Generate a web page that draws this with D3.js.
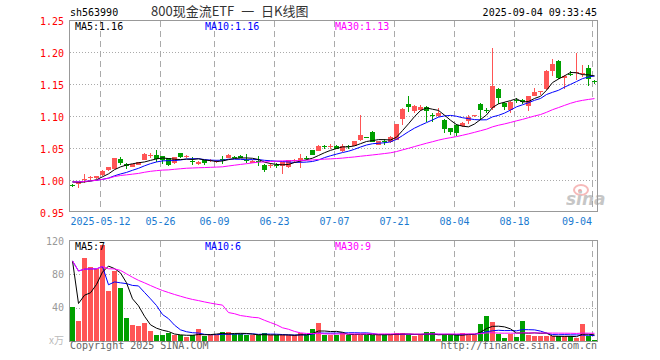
<!DOCTYPE html>
<html>
<head>
<meta charset="utf-8">
<script src="https://cdn.jsdelivr.net/npm/d3@7"></script>
<style>
    body { margin: 0; background: #fff; }
    svg text { font-family: "DejaVu Sans Mono", monospace; font-size: 10px; }
</style>
</head>
<body>
<svg id="chart" width="660" height="360"></svg>
<script>
var symbol = "sh563990";
var title = "800现金流ETF 一 日K线图";
var stamp = "2025-09-04 09:33:45";

// daily bars, oldest first (2025-04-30 .. 2025-09-04)
var open = [0.992, 0.994, 1.000, 1.003, 1.0025, 1.0072, 1.015, 1.0172, 1.0333, 1.025,
    1.0208, 1.024, 1.0317, 1.0385, 1.0395, 1.037, 1.0349, 1.0266, 1.0422, 1.0365,
    1.029, 1.0245, 1.0307, 1.0303, 1.029, 1.033, 1.0349, 1.036, 1.038, 1.031,
    1.027, 1.030, 1.0239, 1.0225, 1.024, 1.0213, 1.0203, 1.030, 1.029, 1.0345,
    1.0462, 1.0458, 1.0528, 1.0523, 1.0535, 1.0458, 1.0528, 1.0536, 1.062, 1.0665,
    1.0755, 1.0552, 1.0605, 1.0594, 1.0625, 1.0955, 1.118, 1.1072, 1.1088, 1.1145,
    1.1022, 1.0994, 1.094, 1.081, 1.0864, 1.085, 1.092, 1.100, 1.119, 1.110,
    1.113, 1.142, 1.121, 1.110, 1.125, 1.1255, 1.116, 1.132, 1.1381, 1.142,
    1.1708, 1.1864, 1.1594, 1.166, 1.167, 1.1664, 1.1745, 1.1545];
var high = [0.994, 0.997, 1.010, 1.007, 1.007, 1.015, 1.020, 1.035, 1.0353, 1.026,
    1.0255, 1.028, 1.042, 1.0427, 1.0473, 1.038, 1.035, 1.036, 1.0425, 1.039,
    1.036, 1.029, 1.031, 1.033, 1.031, 1.038, 1.040, 1.038, 1.039, 1.0406,
    1.032, 1.038, 1.025, 1.026, 1.026, 1.0275, 1.032, 1.033, 1.041, 1.037,
    1.047, 1.054, 1.055, 1.057, 1.054, 1.056, 1.054, 1.061, 1.102, 1.067,
    1.076, 1.061, 1.064, 1.068, 1.088, 1.113, 1.131, 1.117, 1.1166, 1.115,
    1.104, 1.113, 1.095, 1.082, 1.087, 1.090, 1.101, 1.102, 1.120, 1.113,
    1.207, 1.143, 1.122, 1.124, 1.128, 1.126, 1.132, 1.1437, 1.139, 1.172,
    1.189, 1.188, 1.164, 1.171, 1.199, 1.179, 1.180, 1.157];
var low = [0.989, 0.9875, 0.996, 1.000, 1.002, 1.007, 1.014, 1.017, 1.0239, 1.0172,
    1.020, 1.0235, 1.031, 1.0344, 1.0286, 1.0245, 1.022, 1.025, 1.035, 1.0338,
    1.0234, 1.0235, 1.0234, 1.028, 1.027, 1.0255, 1.034, 1.034, 1.034, 1.027,
    1.026, 1.022, 1.013, 1.019, 1.019, 1.0098, 1.019, 1.027, 1.0188, 1.032,
    1.039, 1.045, 1.049, 1.048, 1.048, 1.044, 1.048, 1.053, 1.061, 1.065,
    1.059, 1.054, 1.055, 1.058, 1.062, 1.0864, 1.1056, 1.104, 1.108, 1.0906,
    1.0906, 1.099, 1.0739, 1.0708, 1.069, 1.083, 1.088, 1.098, 1.094, 1.105,
    1.109, 1.118, 1.110, 1.105, 1.121, 1.118, 1.108, 1.131, 1.133, 1.141,
    1.162, 1.158, 1.142, 1.162, 1.1556, 1.1604, 1.1463, 1.150];
var close = [0.991, 0.997, 1.002, 1.005, 1.0067, 1.0145, 1.0197, 1.0348, 1.0266, 1.0213,
    1.0244, 1.0275, 1.0411, 1.039, 1.0328, 1.0318, 1.0229, 1.0359, 1.0359, 1.0368,
    1.0286, 1.0286, 1.0266, 1.0307, 1.030, 1.0328, 1.0391, 1.0355, 1.0344, 1.0306,
    1.030, 1.0295, 1.015, 1.0235, 1.0235, 1.0275, 1.0317, 1.0305, 1.0344, 1.0343,
    1.0395, 1.0525, 1.0525, 1.0527, 1.0485, 1.0525, 1.0525, 1.0603, 1.070, 1.0656,
    1.0594, 1.0603, 1.060, 1.0672, 1.087, 1.1115, 1.1134, 1.116, 1.1145, 1.1075,
    1.1015, 1.104, 1.079, 1.075, 1.0734, 1.089, 1.099, 1.101, 1.110, 1.109,
    1.147, 1.128, 1.114, 1.122, 1.124, 1.1213, 1.1317, 1.138, 1.1388, 1.1708,
    1.1817, 1.1594, 1.163, 1.1652, 1.1682, 1.1672, 1.158, 1.154];
// volume in 万
var volume = [40.4, 23.6, 99.6, 88.8, 86.8, 114.8, 59.6, 84.4, 63.2, 27.2,
    18.8, 17.6, 21.6, 12, 6.8, 6.8, 9.6, 6.8, 6.8, 4.4,
    6.8, 14, 5.6, 7.6, 7.6, 10.8, 10.8, 8.4, 8.4, 6.8,
    6.8, 6.8, 9.2, 6.8, 6.8, 6.8, 6.8, 6.8, 10, 6.8,
    14.8, 21.6, 6.8, 6.8, 7.6, 9.6, 7.6, 7.6, 7.6, 7.6,
    7.6, 7.6, 7.6, 7.6, 9.6, 9.6, 7.6, 5.6, 7.6, 10.8,
    10.8, 2.4, 7.6, 7.6, 7.6, 9.6, 7.6, 7.6, 20.4, 29.6,
    22.8, 8.4, 3.6, 8.4, 4.4, 23.6, 6.8, 5.6, 5.6, 5.6,
    5.6, 5.6, 5.6, 5.6, 3.6, 20.4, 5.6, 1.2];

// the few days before the window, only used to warm up the averages
var warmClose = [1.000, 0.999, 0.998, 0.997];
var warmVolume = [279, 50, 74, 37];

var maDays = [5, 10, 30];
var maColors = ["#000000", "#0000ff", "#ff00ff"];

var tickIndex = [5, 15, 24, 34, 44, 54, 64, 74, 87];
var tickLabels = ["2025-05-12", "05-26", "06-09", "06-23", "07-07", "07-21", "08-04", "08-18", "09-04"];
var priceTicks = [0.95, 1.00, 1.05, 1.10, 1.15, 1.20, 1.25];
var volumeTicks = [40, 80, 120];

var red = "#ff5555";
var green = "#00a000";

// moving average, shorter window while history is short
function movingAverage(values, warm, n) {
    var all = warm.concat(values);
    return values.map(function (v, i) {
        var j = i + warm.length;
        return d3.mean(all.slice(Math.max(0, j - n + 1), j + 1));
    });
}

var svg = d3.select("#chart");
var left = 70, right = 597;

var x = d3.scaleBand()
    .domain(d3.range(close.length))
    .range([left, right])
    .paddingInner(1 / 6)
    .paddingOuter(0);
var bx = function (i) { return Math.round(x(i)); };

var yPrice = d3.scaleLinear().domain([0.95, 1.25]).range([212, 20]);
var yVol = d3.scaleLinear().domain([0, 120]).range([341, 241]);

var up = close.map(function (c, i) { return c >= open[i]; });

function panel(y, ticks, lo, hi, firstGrid) {
    var g = svg.append("g").attr("shape-rendering", "crispEdges");
    var top = Math.round(y(hi)) + 0.5 - (y === yVol ? 1 : 0);
    var bottom = Math.round(y(lo)) - 0.5 + (y === yVol ? 1 : 0);

    g.selectAll("line.h")
        .data(ticks.filter(function (t) { return t > lo && t < hi; }))
        .enter()
        .append("line")
        .attr("x1", left).attr("x2", right)
        .attr("y1", function (d) { return Math.round(y(d)) + 0.5; })
        .attr("y2", function (d) { return Math.round(y(d)) + 0.5; })
        .attr("stroke", "#aaa")
        .attr("stroke-dasharray", "1,2");

    g.selectAll("line.v")
        .data(tickIndex.slice(firstGrid))
        .enter()
        .append("line")
        .attr("x1", function (d) { return bx(d) + 0.5; })
        .attr("x2", function (d) { return bx(d) + 0.5; })
        .attr("y1", top).attr("y2", bottom)
        .attr("stroke", "#aaa")
        .attr("stroke-dasharray", "6,4");

    g.append("rect")
        .attr("x", left - 0.5)
        .attr("y", top)
        .attr("width", right - left + 1)
        .attr("height", bottom - top)
        .attr("fill", "none")
        .attr("stroke", "#999");
}

panel(yPrice, priceTicks, 0.95, 1.25, 0);
panel(yVol, [0, 40, 80, 120], 0, 120, 1);

// sina watermark
var mark = svg.append("g").attr("opacity", 0.55);
mark.append("ellipse")
    .attr("cx", 581).attr("cy", 190)
    .attr("rx", 7).attr("ry", 5)
    .attr("fill", "none")
    .attr("stroke", "#f08080")
    .attr("stroke-width", 2);
mark.append("circle")
    .attr("cx", 580).attr("cy", 191).attr("r", 2)
    .attr("fill", "#e06060");
mark.append("text")
    .attr("x", 566).attr("y", 205)
    .style("font-family", "DejaVu Sans")
    .style("font-size", "17px")
    .style("font-style", "italic")
    .style("font-weight", "bold")
    .attr("fill", "#999")
    .text("sina");

// candles
var candles = svg.append("g").attr("shape-rendering", "crispEdges");
candles.selectAll("rect.wick")
    .data(close)
    .enter()
    .append("rect")
    .attr("x", function (d, i) { return bx(i) + 2; })
    .attr("y", function (d, i) { return Math.round(yPrice(high[i])); })
    .attr("width", 1)
    .attr("height", function (d, i) {
        return Math.max(1, Math.round(yPrice(low[i])) - Math.round(yPrice(high[i])));
    })
    .attr("fill", function (d, i) { return up[i] ? red : green; });

candles.selectAll("rect.body")
    .data(close)
    .enter()
    .append("rect")
    .attr("x", function (d, i) { return bx(i); })
    .attr("y", function (d, i) { return Math.round(yPrice(Math.max(d, open[i]))); })
    .attr("width", 5)
    .attr("height", function (d, i) {
        var t = Math.round(yPrice(Math.max(d, open[i])));
        var b = Math.round(yPrice(Math.min(d, open[i])));
        return Math.max(1, b - t);
    })
    .attr("fill", function (d, i) { return up[i] ? red : green; });

// volume bars
svg.append("g")
    .attr("shape-rendering", "crispEdges")
    .selectAll("rect")
    .data(volume)
    .enter()
    .append("rect")
    .attr("x", function (d, i) { return bx(i); })
    .attr("y", function (d) { return Math.round(yVol(d)); })
    .attr("width", 5)
    .attr("height", function (d) { return Math.max(1, Math.round(yVol(0)) - Math.round(yVol(d))); })
    .attr("fill", function (d, i) { return up[i] ? red : green; });

// moving average lines, blue first so black and magenta sit on top
var priceMA = maDays.map(function (n) { return movingAverage(close, warmClose, n); });
var volMA = maDays.map(function (n) { return movingAverage(volume, warmVolume, n); });

function drawLines(series, y) {
    [1, 0, 2].forEach(function (k) {
        svg.append("path")
            .datum(series[k])
            .attr("fill", "none")
            .attr("stroke", maColors[k])
            .attr("stroke-width", 1)
            .attr("d", d3.line()
                .x(function (d, i) { return bx(i) + 2.5; })
                .y(function (d) { return y(d); }));
    });
}
drawLines(priceMA, yPrice);
drawLines(volMA, yVol);

// legends
var fmtPrice = d3.format(".2f");
var fmtVol = d3.format(".0f");
maDays.forEach(function (n, k) {
    var last = close.length - 1;
    svg.append("text")
        .attr("x", 75 + 130 * k).attr("y", 29.5)
        .attr("fill", maColors[k])
        .text("MA" + n + ":" + fmtPrice(priceMA[k][last]));
    svg.append("text")
        .attr("x", 75 + 130 * k).attr("y", 250)
        .attr("fill", maColors[k])
        .text("MA" + n + ":" + fmtVol(volMA[k][last]));
});

// axis labels
svg.selectAll("text.py")
    .data(priceTicks)
    .enter()
    .append("text")
    .attr("x", 64)
    .attr("y", function (d) { return yPrice(d) + 4.5; })
    .attr("text-anchor", "end")
    .attr("fill", "#ff0000")
    .text(function (d) { return d.toFixed(2); });

svg.selectAll("text.vy")
    .data(volumeTicks)
    .enter()
    .append("text")
    .attr("x", 64)
    .attr("y", function (d) { return yVol(d) + 3.5; })
    .attr("text-anchor", "end")
    .attr("fill", "#999")
    .text(function (d) { return d; });

svg.append("text")
    .attr("x", 64).attr("y", 344)
    .attr("text-anchor", "end")
    .attr("fill", "#bbb")
    .style("font-family", "Noto Sans CJK SC")
    .text("x万");

// the last date label is pulled back inside the frame
svg.selectAll("text.dx")
    .data(tickIndex)
    .enter()
    .append("text")
    .attr("x", function (d, i) { return i === tickIndex.length - 1 ? bx(d) : bx(d) + 0.5; })
    .attr("y", 225)
    .attr("text-anchor", function (d, i) { return i === tickIndex.length - 1 ? "end" : "middle"; })
    .attr("fill", "#1a7ad0")
    .text(function (d, i) { return tickLabels[i]; });

// header and footer
svg.append("text")
    .attr("x", 70).attr("y", 16)
    .attr("fill", "#000")
    .text(symbol);

svg.append("text")
    .attr("x", 151).attr("y", 16)
    .attr("fill", "#333")
    .style("font-family", "Noto Sans CJK SC")
    .style("font-size", "13px")
    .style("word-spacing", "4px")
    .text(title);

svg.append("text")
    .attr("x", 597).attr("y", 16)
    .attr("text-anchor", "end")
    .attr("fill", "#000")
    .text(stamp);

svg.append("text")
    .attr("x", 70).attr("y", 349)
    .attr("fill", "#666")
    .text("Copyright 2025 SINA.COM");

svg.append("text")
    .attr("x", 597).attr("y", 349)
    .attr("text-anchor", "end")
    .attr("fill", "#666")
    .text("http://finance.sina.com.cn");
</script>
</body>
</html>
